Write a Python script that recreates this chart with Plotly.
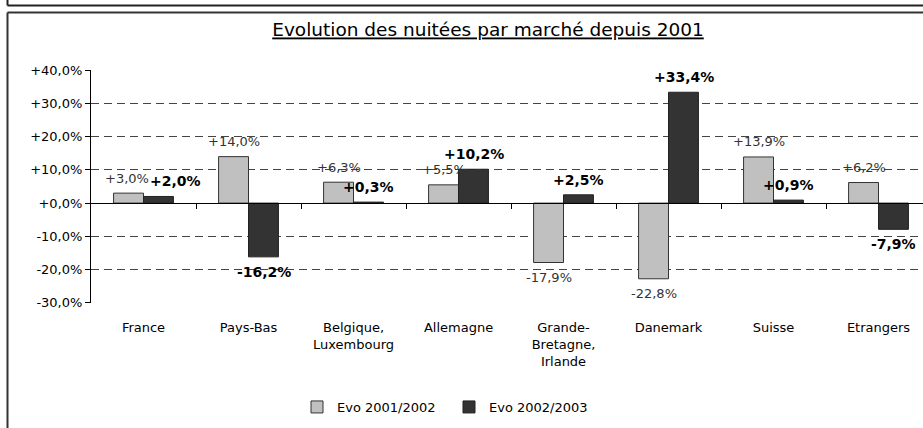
import plotly.graph_objects as go

categories = ["France", "Pays-Bas", "Belgique,<br>Luxembourg", "Allemagne",
              "Grande-<br>Bretagne,<br>Irlande", "Danemark", "Suisse", "Etrangers"]
evo_2001_2002 = [3.0, 14.0, 6.3, 5.5, -17.9, -22.8, 13.9, 6.2]
evo_2002_2003 = [2.0, -16.2, 0.3, 10.2, 2.5, 33.4, 0.9, -7.9]
series_names = ["Evo 2001/2002", "Evo 2002/2003"]
ytick_vals = [-30, -20, -10, 0, 10, 20, 30, 40]

W, H = 923, 428
L, R, T, B = 91, 0, 70, 125
PW, PH = W - L - R, H - T - B
FONT = "DejaVu Sans"
PX_PER_UNIT = PH / 70.2


def fmt(v):
    s = f"{v:+.1f}".replace(".", ",")
    return s + "%"


def px(x):
    return (x - L) / PW


def py(y):
    return (H - B - y) / PH


idx = list(range(len(categories)))

fig = go.Figure()
fig.add_trace(go.Bar(
    x=idx, y=evo_2001_2002, name=series_names[0],
    marker=dict(color="#C0C0C0", line=dict(color="#333333", width=1)),
))
fig.add_trace(go.Bar(
    x=idx, y=evo_2002_2003, name=series_names[1],
    marker=dict(color="#333333", line=dict(color="#222222", width=1)),
))
# helper trace so the zero-axis overlay exists
fig.add_trace(go.Scatter(x=[], y=[], xaxis="x2", yaxis="y", showlegend=False))

annotations = []
for i, v1, v2 in zip(idx, evo_2001_2002, evo_2002_2003):
    # separate the two labels when they would collide (same side, similar height)
    crowded = (v1 >= 0) == (v2 >= 0) and abs(v1 - v2) * PX_PER_UNIT < 12
    d1, d2 = (-17, 32) if crowded else (-15, 15)
    for v, dx, bold, col, size in ((v1, d1, False, "#333333", 13),
                                   (v2, d2, True, "#000000", 14)):
        t = fmt(v)
        annotations.append(dict(
            x=i, y=v, xref="x", yref="y", text=("<b>" + t + "</b>") if bold else t,
            showarrow=False, xshift=dx, yshift=15 if v >= 0 else -15,
            xanchor="center", yanchor="middle",
            font=dict(family=FONT, size=size, color=col)))

n = len(categories)
xr = [-0.5, n - 0.5 - 8 / 105]

fig.update_layout(
    width=W, height=H,
    margin=dict(l=L, r=R, t=T, b=B),
    paper_bgcolor="white", plot_bgcolor="white",
    barmode="group", bargap=0.43, bargroupgap=0,
    font=dict(family=FONT, size=13, color="#000000"),
    title=dict(text="<u>Evolution des nuitées par marché depuis 2001</u>",
               x=488 / W, xanchor="center", y=1 - 30 / H, yanchor="middle",
               font=dict(family=FONT, size=18.5, color="#000000")),
    xaxis=dict(range=xr, tickvals=idx, ticktext=categories, showgrid=False,
               zeroline=False, showline=False, ticks="", ticklabelstandoff=15,
               automargin=False,
               tickfont=dict(family=FONT, size=13, color="#000000")),
    xaxis2=dict(range=xr, overlaying="x", anchor="free", position=30.1 / 70.2,
                tickvals=[i + 0.5 for i in idx[:-1]], ticktext=[""] * (n - 1),
                ticks="outside", ticklen=5, tickcolor="#000000",
                showline=True, linecolor="#000000", linewidth=1, automargin=False,
                showgrid=False, zeroline=False, showticklabels=False),
    yaxis=dict(range=[-30.1, 40.1], tickvals=ytick_vals,
               ticktext=[fmt(v) for v in ytick_vals],
               showgrid=True, gridcolor="#444444", gridwidth=1, griddash="8px,5px",
               zeroline=False, showline=True, linecolor="#000000", linewidth=1,
               ticks="outside", ticklen=5, tickcolor="#000000", automargin=False,
               tickfont=dict(family=FONT, size=13, color="#000000")),
    legend=dict(orientation="h", x=px(297), xanchor="left", y=py(407), yanchor="middle",
                font=dict(family=FONT, size=13, color="#000000"),
                itemwidth=30, entrywidth=107, bgcolor="rgba(0,0,0,0)"),
    annotations=annotations,
    shapes=[
        dict(type="line", xref="paper", yref="paper", x0=px(7.5), x1=px(W + 5),
             y0=py(5.5), y1=py(5.5), line=dict(color="#222222", width=2)),
        dict(type="line", xref="paper", yref="paper", x0=px(7.5), x1=px(7.5),
             y0=py(-2), y1=py(5.5), line=dict(color="#222222", width=2)),
        dict(type="line", xref="paper", yref="paper", x0=px(7.5), x1=px(W + 5),
             y0=py(12.5), y1=py(12.5), line=dict(color="#333333", width=2)),
        dict(type="line", xref="paper", yref="paper", x0=px(7.5), x1=px(7.5),
             y0=py(12.5), y1=py(H + 5), line=dict(color="#333333", width=2)),
    ],
)

fig.write_html("out.html",
               config={"displayModeBar": False},
               post_script="document.body.style.margin='0px';"
                           "document.body.style.overflow='hidden';")
